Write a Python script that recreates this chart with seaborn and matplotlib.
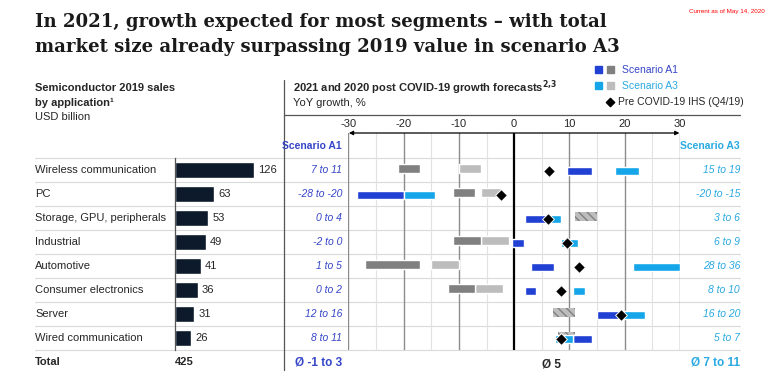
import numpy as np
import matplotlib.pyplot as plt
from matplotlib.patches import Rectangle
import seaborn as sns

sns.set_style("white")
plt.rcParams['font.family'] = ['Liberation Sans', 'DejaVu Sans']
plt.rcParams['axes.unicode_minus'] = False

# -------------------------------------------------------------------
# Data
# -------------------------------------------------------------------
apps = ["Wireless communication", "PC", "Storage, GPU, peripherals", "Industrial",
        "Automotive", "Consumer electronics", "Server", "Wired communication"]
sales = [126, 63, 53, 49, 41, 36, 31, 26]
total_sales = "425"

a1_labels = ["7 to 11", "-28 to -20", "0 to 4", "-2 to 0", "1 to 5", "0 to 2", "12 to 16", "8 to 11"]
a3_labels = ["15 to 19", "-20 to -15", "3 to 6", "6 to 9", "28 to 36", "8 to 10", "16 to 20", "5 to 7"]

# 2020 ranges (grey), 2021 ranges (blue), start / end in %
a1_2020_lo = [-21, -11, 11, -11, -27, -12, 7, 8]
a1_2020_hi = [-17, -7, 15, -6, -17, -7, 11, 11]
a3_2020_lo = [-10, -6, 11, -6, -15, -7, 7, 8]
a3_2020_hi = [-6, -2.4, 15, -1, -10, -2, 11, 11]
a1_2021_lo = [9.5, -28.5, 2, -0.3, 3, 2, 15, 10.7]
a1_2021_hi = [14, -20, 6, 1.8, 7.2, 4, 19.3, 14]
a3_2021_lo = [18.2, -20, 6, 8.4, 21.5, 10.7, 19.3, 7.3]
a3_2021_hi = [22.6, -14.4, 8.4, 11.6, 30, 12.8, 23.6, 10.7]
pre_covid = [6.3, -2.4, 6.2, 9.5, 11.8, 8.4, 19.3, 8.4]

# colours
navy = "#0c1a2b"
blue = "#2140d4"
lblue = "#14a6e8"
dgrey = "#808080"
lgrey = "#bdbdbd"
a1_col = "#3545c8"
a3_col = "#29a9e1"

W, H = 775, 383
fig = plt.figure(figsize=(W / 100, H / 100), dpi=100)


def rect(x0, y0, x1, y1):
    # pixel box (top-left origin) -> figure fraction
    return [x0 / W, 1 - y1 / H, (x1 - x0) / W, (y1 - y0) / H]


# overlay axes in pixel coordinates for texts and rules
ov = fig.add_axes([0, 0, 1, 1], zorder=0)
ov.set_xlim(0, W)
ov.set_ylim(H, 0)
ov.axis("off")

# -------------------------------------------------------------------
# Left: 2019 sales bars
# -------------------------------------------------------------------
axl = fig.add_axes(rect(175, 158, 275, 350), zorder=2)
axl.patch.set_alpha(0)
sns.barplot(x=sales, y=apps, orient="h", color=navy, saturation=1, width=0.67, ax=axl)
axl.set_xlim(0, 159.5)
axl.set_ylim(7.5, -0.5)
axl.set_xticks([])
axl.set_yticks([])
axl.set_xlabel("")
axl.set_ylabel("")
for s in ["top", "right", "bottom"]:
    axl.spines[s].set_visible(False)
axl.spines["left"].set_color("#555555")
axl.spines["left"].set_linewidth(0.9)
axl.bar_label(axl.containers[0], padding=3, fontsize=8)

# -------------------------------------------------------------------
# Right: growth forecast ranges
# -------------------------------------------------------------------
axr = fig.add_axes(rect(348.3, 133, 680, 350), zorder=2)
axr.patch.set_alpha(0)
axr.set_xlim(-30, 30)
axr.set_ylim(7.5, -1.542)
for v in range(-25, 30, 10):
    axr.axvline(v, color="#e2e2e2", lw=0.8, zorder=0)
for v in range(-30, 31, 10):
    axr.axvline(v, color="black" if v == 0 else "#8c8c8c",
                lw=1.6 if v == 0 else 1.0, zorder=0.5)
axr.annotate("", xy=(-30.4, -1.542), xytext=(30.4, -1.542), xycoords="data",
             arrowprops=dict(arrowstyle="<|-|>", color="black", lw=0.9, mutation_scale=6),
             annotation_clip=False)
axr.xaxis.tick_top()
axr.set_xticks(range(-30, 31, 10))
axr.tick_params(axis="x", length=0, pad=3, labelsize=8)
axr.set_yticks([])
for s in axr.spines.values():
    s.set_visible(False)

rows = np.arange(len(apps))
bh = 0.34
g_off, b_off = -0.06, 0.05
for i in rows:
    same = (a1_2020_lo[i] == a3_2020_lo[i]) and (a1_2020_hi[i] == a3_2020_hi[i])
    if same:
        axr.barh(i + g_off, a3_2020_hi[i] - a3_2020_lo[i], left=a3_2020_lo[i], height=bh,
                 facecolor=lgrey, edgecolor=dgrey, hatch="\\\\\\\\", linewidth=0, zorder=2)
    else:
        axr.barh(i + g_off, a3_2020_hi[i] - a3_2020_lo[i], left=a3_2020_lo[i], height=bh,
                 color=lgrey, zorder=2)
        axr.barh(i + g_off, a1_2020_hi[i] - a1_2020_lo[i], left=a1_2020_lo[i], height=bh,
                 color=dgrey, zorder=2)
axr.barh(rows + b_off, np.subtract(a1_2021_hi, a1_2021_lo), left=a1_2021_lo, height=bh,
         color=blue, zorder=3)
axr.barh(rows + b_off, np.subtract(a3_2021_hi, a3_2021_lo), left=a3_2021_lo, height=bh,
         color=lblue, zorder=3)
sns.scatterplot(x=pre_covid, y=rows + b_off, marker="D", s=36, color="black",
                edgecolor="white", linewidth=0.7, ax=axr, zorder=5, legend=False, clip_on=False)
axr.set_xlabel("")
axr.set_ylabel("")

# -------------------------------------------------------------------
# Rules
# -------------------------------------------------------------------
for k in range(9):
    y = 158 + 24 * k
    ov.plot([35, 740], [y, y], color="#dadada", lw=0.8)
ov.plot([284, 284], [80, 370], color="#555555", lw=0.9)
ov.plot([284, 740], [115, 115], color="#555555", lw=0.9)

# -------------------------------------------------------------------
# Texts
# -------------------------------------------------------------------
ov.text(35, 22, "In 2021, growth expected for most segments \u2013 with total",
        fontsize=13.1, fontweight="bold", family="DejaVu Serif", va="center", color="#1a1a1a")
ov.text(35, 47, "market size already surpassing 2019 value in scenario A3",
        fontsize=13.1, fontweight="bold", family="DejaVu Serif", va="center", color="#1a1a1a")
ov.text(765, 12, "Current as of May 14, 2020", fontsize=4.5, color="red", ha="right", va="center")

ov.text(35, 88, "Semiconductor 2019 sales", fontsize=8, fontweight="bold", va="center")
ov.text(35, 103, "by application\u00b9", fontsize=8, fontweight="bold", va="center")
ov.text(35, 117, "USD billion", fontsize=8, va="center")
ov.text(293, 88, r"2021 and 2020 post COVID-19 growth forecasts$^{\mathbf{2{,}3}}$", fontsize=8,
        fontweight="bold", va="center")
ov.text(293, 103, "YoY growth, %", fontsize=8, va="center")

# legend
ov.add_patch(Rectangle((595, 66), 7, 7, color=blue))
ov.add_patch(Rectangle((607, 66), 7, 7, color=dgrey))
ov.text(622, 70, "Scenario A1", fontsize=7.5, color=a1_col, va="center")
ov.add_patch(Rectangle((595, 82), 7, 7, color=lblue))
ov.add_patch(Rectangle((607, 82), 7, 7, color=lgrey))
ov.text(622, 86, "Scenario A3", fontsize=7.5, color=a3_col, va="center")
ov.scatter([610], [102], marker="D", s=18, color="black")
ov.text(618, 102, "Pre COVID-19 IHS (Q4/19)", fontsize=7.5, va="center")

ov.text(342, 146, "Scenario A1", fontsize=7.5, fontweight="bold", color=a1_col, ha="right", va="center")
ov.text(740, 146, "Scenario A3", fontsize=7.5, fontweight="bold", color=a3_col, ha="right", va="center")

for i, name in enumerate(apps):
    y = 170 + 24 * i
    ov.text(35, y, name, fontsize=8, va="center")
    ov.text(342, y, a1_labels[i], fontsize=7.5, style="italic", color=a1_col, ha="right", va="center")
    ov.text(740, y, a3_labels[i], fontsize=7.5, style="italic", color=a3_col, ha="right", va="center")

ov.text(35, 362, "Total", fontsize=8, fontweight="bold", va="center")
ov.text(175, 362, total_sales, fontsize=8, fontweight="bold", va="center")
ov.text(342, 362, "\u00d8 -1 to 3", fontsize=8.5, fontweight="bold", color=a1_col, ha="right", va="center")
ov.text(552, 364, "\u00d8 5", fontsize=8.5, fontweight="bold", ha="center", va="center")
ov.text(740, 362, "\u00d8 7 to 11", fontsize=8.5, fontweight="bold", color=a3_col, ha="right", va="center")

fig.savefig("out.png", dpi=100)
